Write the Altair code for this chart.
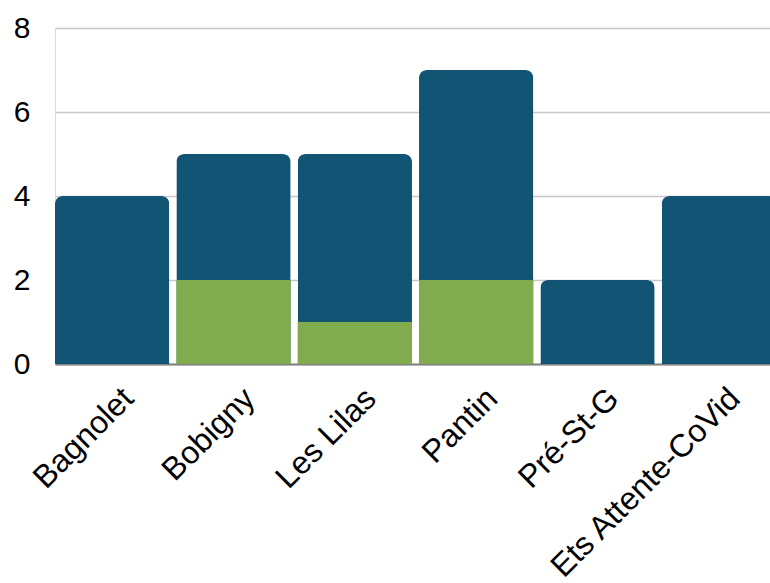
import altair as alt
import pandas as pd

categories = ["Bagnolet", "Bobigny", "Les Lilas", "Pantin", "Pré-St-G", "Ets Attente-CoVid"]
green_values = [0, 2, 1, 2, 0, 0]
blue_values = [4, 3, 4, 5, 2, 4]

df = pd.DataFrame({"cat": categories, "green": green_values, "blue": blue_values})

BLUE = "#115474"
GREEN = "#80AC4D"
FONT = "Liberation Sans"

x = alt.X("cat:N", sort=categories, title=None,
          scale=alt.Scale(paddingInner=0.058, paddingOuter=0, range=[0, 721]),
          axis=alt.Axis(labelAngle=-45, labelAlign="right", labelBaseline="middle",
                        labelPadding=29, labelOffset=16, labelLimit=1000,
                        labelFontSize=32,
                        ticks=False, domainColor="#808080",
                        domainWidth=2, grid=False))

yscale = alt.Scale(domain=[0, 8], nice=False)

yaxis = alt.Axis(values=[0, 2, 4, 6, 8], labelPadding=25, ticks=False,
                 labelFontSize=30,
                 domain=False, gridColor="#c8c8c8", gridWidth=1.5)

base = alt.Chart(df).transform_calculate(total="datum.green + datum.blue")

blue = base.mark_bar(color=BLUE, cornerRadiusTopLeft=8, cornerRadiusTopRight=8).encode(
    x=x,
    y=alt.Y("total:Q", title=None, scale=yscale, axis=yaxis),
)

green = base.mark_bar(color=GREEN).encode(
    x=x,
    y=alt.Y("green:Q", scale=yscale, title=None, axis=yaxis),
)

chart = alt.layer(blue, green).properties(
    width=715, height=336,
    autosize=alt.AutoSizeParams(type="none"),
    padding={"left": 55, "top": 28, "right": 0, "bottom": 219},
).configure_view(stroke=None).configure(background="white").configure_axis(
    labelFont=FONT, labelColor="#000"
)

chart.save("out.html", embed_options={"renderer": "svg", "actions": False})
